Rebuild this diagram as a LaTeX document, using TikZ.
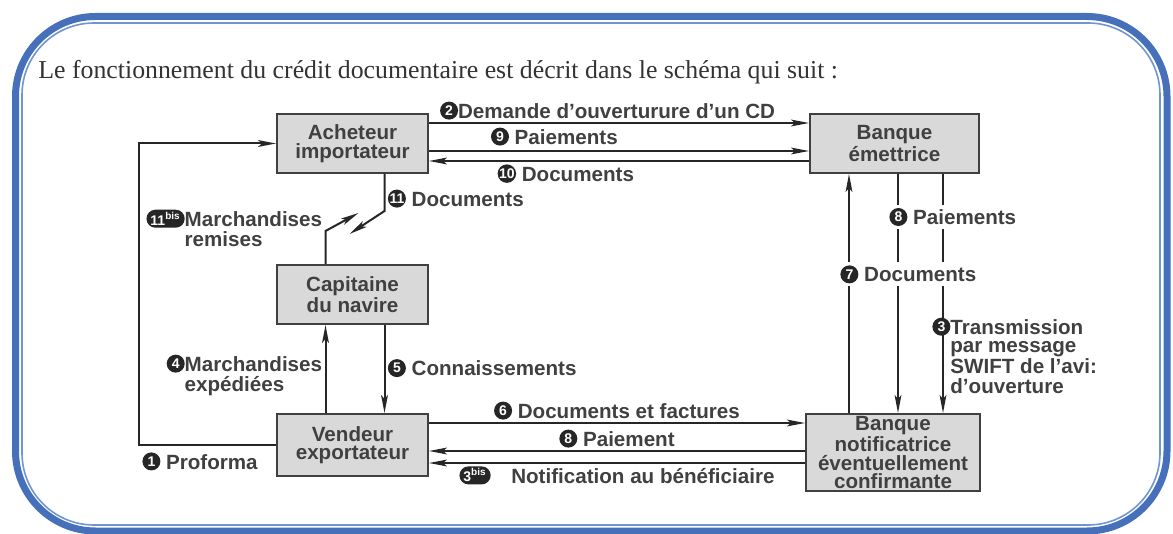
\documentclass[tikz,border=0pt]{standalone}
\usepackage{fontspec}
\setmainfont{Liberation Serif}
\setsansfont{Liberation Sans}
\usetikzlibrary{positioning,arrows.meta}
\definecolor{frameblue}{RGB}{70,112,186}
\definecolor{framelight}{RGB}{110,150,210}
\newcommand\badge[1]{\tikz[baseline=-0.7ex]\node[circle,fill=black!85,draw=none,text=white,inner sep=0pt,minimum size=9pt,anchor=center,font=\sffamily\bfseries\fontsize{7}{7}\selectfont]{#1};}
\newcommand\badgebis[1]{\tikz[baseline=-0.7ex]\node[rounded corners=4.5pt,fill=black!85,draw=none,text=white,inner xsep=2pt,inner ysep=0pt,minimum height=9pt,anchor=center,font=\sffamily\bfseries\fontsize{7}{7}\selectfont]{#1\textsuperscript{bis}};}

\begin{document}
\begin{tikzpicture}[
  x=0.5pt, y=-0.5pt,
  box/.style={draw=black!75,line width=1pt,fill=black!15,text=black!75,align=center,inner sep=0pt,
    minimum width=75.5pt,minimum height=29.5pt,font=\sffamily\bfseries\fontsize{10.3}{9.2}\selectfont},
  lbl/.style={text=black!75,inner sep=1.5pt,font=\sffamily\bfseries\fontsize{10.3}{9.2}\selectfont},
  arr/.style={draw=black!85,line width=1pt,-{Stealth[length=9pt,width=3.4pt,inset=2pt]}}
  ]

   \useasboundingbox (0,0) rectangle (1173,534);

   % cadre
   \draw [frameblue, line width=3.5pt, rounded corners=40pt] (15.5,16.5) rectangle (1167,531);
   \draw [framelight, line width=0.8pt, rounded corners=36pt] (22,23) rectangle (1160,525);

   \node (titre) [anchor=base west, inner sep=0pt, text=black!80, font=\fontsize{12.9}{13}\selectfont] at (38,79)
     {Le fonctionnement du crédit documentaire est décrit dans le schéma qui suit :};

   % acteurs
   \node (acheteur) [box] at (352.5,143.5) {Acheteur\\importateur};
   \node (emettrice) [box, minimum width=84.5pt, right=190pt of acheteur] {Banque\\émettrice};
   \node (capitaine) [box, below=45pt of acheteur] {Capitaine\\du navire};
   \node (vendeur) [box, minimum height=31pt, below=44pt of capitaine] {Vendeur\\exportateur};
   \node (notif) [box, minimum width=87pt, minimum height=38.5pt, anchor=north west]
     at ([xshift=188pt]vendeur.north east) {Banque\\notificatrice\\éventuellement\\confirmante};

   % acheteur <-> banque emettrice
   \draw [arr] ([yshift=10.25pt]acheteur.east) to node[lbl, above, pos=0.47] {\badge{2}Demande d’ouverturure d’un CD} ([yshift=10.25pt]emettrice.west);
   \draw [arr] ([yshift=-3.75pt]acheteur.east) to node[lbl, above, pos=0.33, yshift=1pt] {\badge{9} Paiements} ([yshift=-3.75pt]emettrice.west);
   \draw [arr] ([yshift=-8.75pt]emettrice.west) to node[lbl, below, pos=0.64] {\badge{10} Documents} ([yshift=-8.75pt]acheteur.east);

   % proforma
   \draw [arr] (vendeur.west) -- ++(-68.5pt,0pt) node[lbl, below right, yshift=-2pt] {\badge{1} Proforma} |- (acheteur.west);

   % acheteur <-> capitaine
   \draw [arr] ([xshift=-13.5pt]capitaine.north) -- ++(0pt,16.5pt)
     node[lbl, left] {\badgebis{11}\begin{tabular}[t]{@{}l@{}}Marchandises\\remises\end{tabular}} -- ++(16.5pt,9pt);
   \draw [arr] ([xshift=16pt]acheteur.south) -- ++(0pt,-18.5pt) node[lbl, above right] {\badge{11} Documents} -- ++(-17.5pt,-11.5pt);

   % capitaine <-> vendeur
   \draw [arr] ([xshift=-13.5pt]vendeur.north) to node[lbl, left, pos=0.42] {\badge{4}\begin{tabular}[t]{@{}l@{}}Marchandises\\expédiées\end{tabular}} ([xshift=-13.5pt]capitaine.south);
   \draw [arr] ([xshift=16pt]capitaine.south) to node[lbl, right, pos=0.49] {\badge{5} Connaissements} ([xshift=16pt]vendeur.north);

   % vendeur <-> banque notificatrice
   \draw [arr] ([yshift=11pt]vendeur.east) to node[lbl, above] {\badge{6} Documents et factures} ([yshift=11pt]vendeur.east -| notif.west);
   \draw [arr] ([yshift=-3pt]vendeur.east -| notif.west) to node[lbl, above] {\badge{8} Paiement} ([yshift=-3pt]vendeur.east);
   \draw [arr] ([yshift=-9pt]vendeur.east -| notif.west) to node[lbl, below] {\badgebis{3}\quad Notification au bénéficiaire} ([yshift=-9pt]vendeur.east);

   % banques
   \draw [arr] ([xshift=24.25pt]emettrice.south) to node[lbl, anchor=north west, pos=0.587, xshift=-7pt]
     {\badge{3}\begin{tabular}[t]{@{}l@{}}Transmission\\par message\\SWIFT de l’avi:\\d’ouverture\end{tabular}} ([xshift=24.25pt]emettrice.south |- notif.north);
   \draw [arr] ([xshift=1.75pt]emettrice.south) to node[lbl, fill=white, anchor=west, pos=0.18, xshift=-6pt] {\badge{8} Paiements} ([xshift=1.75pt]emettrice.south |- notif.north);
   \draw [arr] ([xshift=-22pt]notif.north) to node[lbl, fill=white, anchor=west, pos=0.58, xshift=-6pt] {\badge{7} Documents} ([xshift=-22pt]notif.north |- emettrice.south);

\end{tikzpicture}
\end{document}
